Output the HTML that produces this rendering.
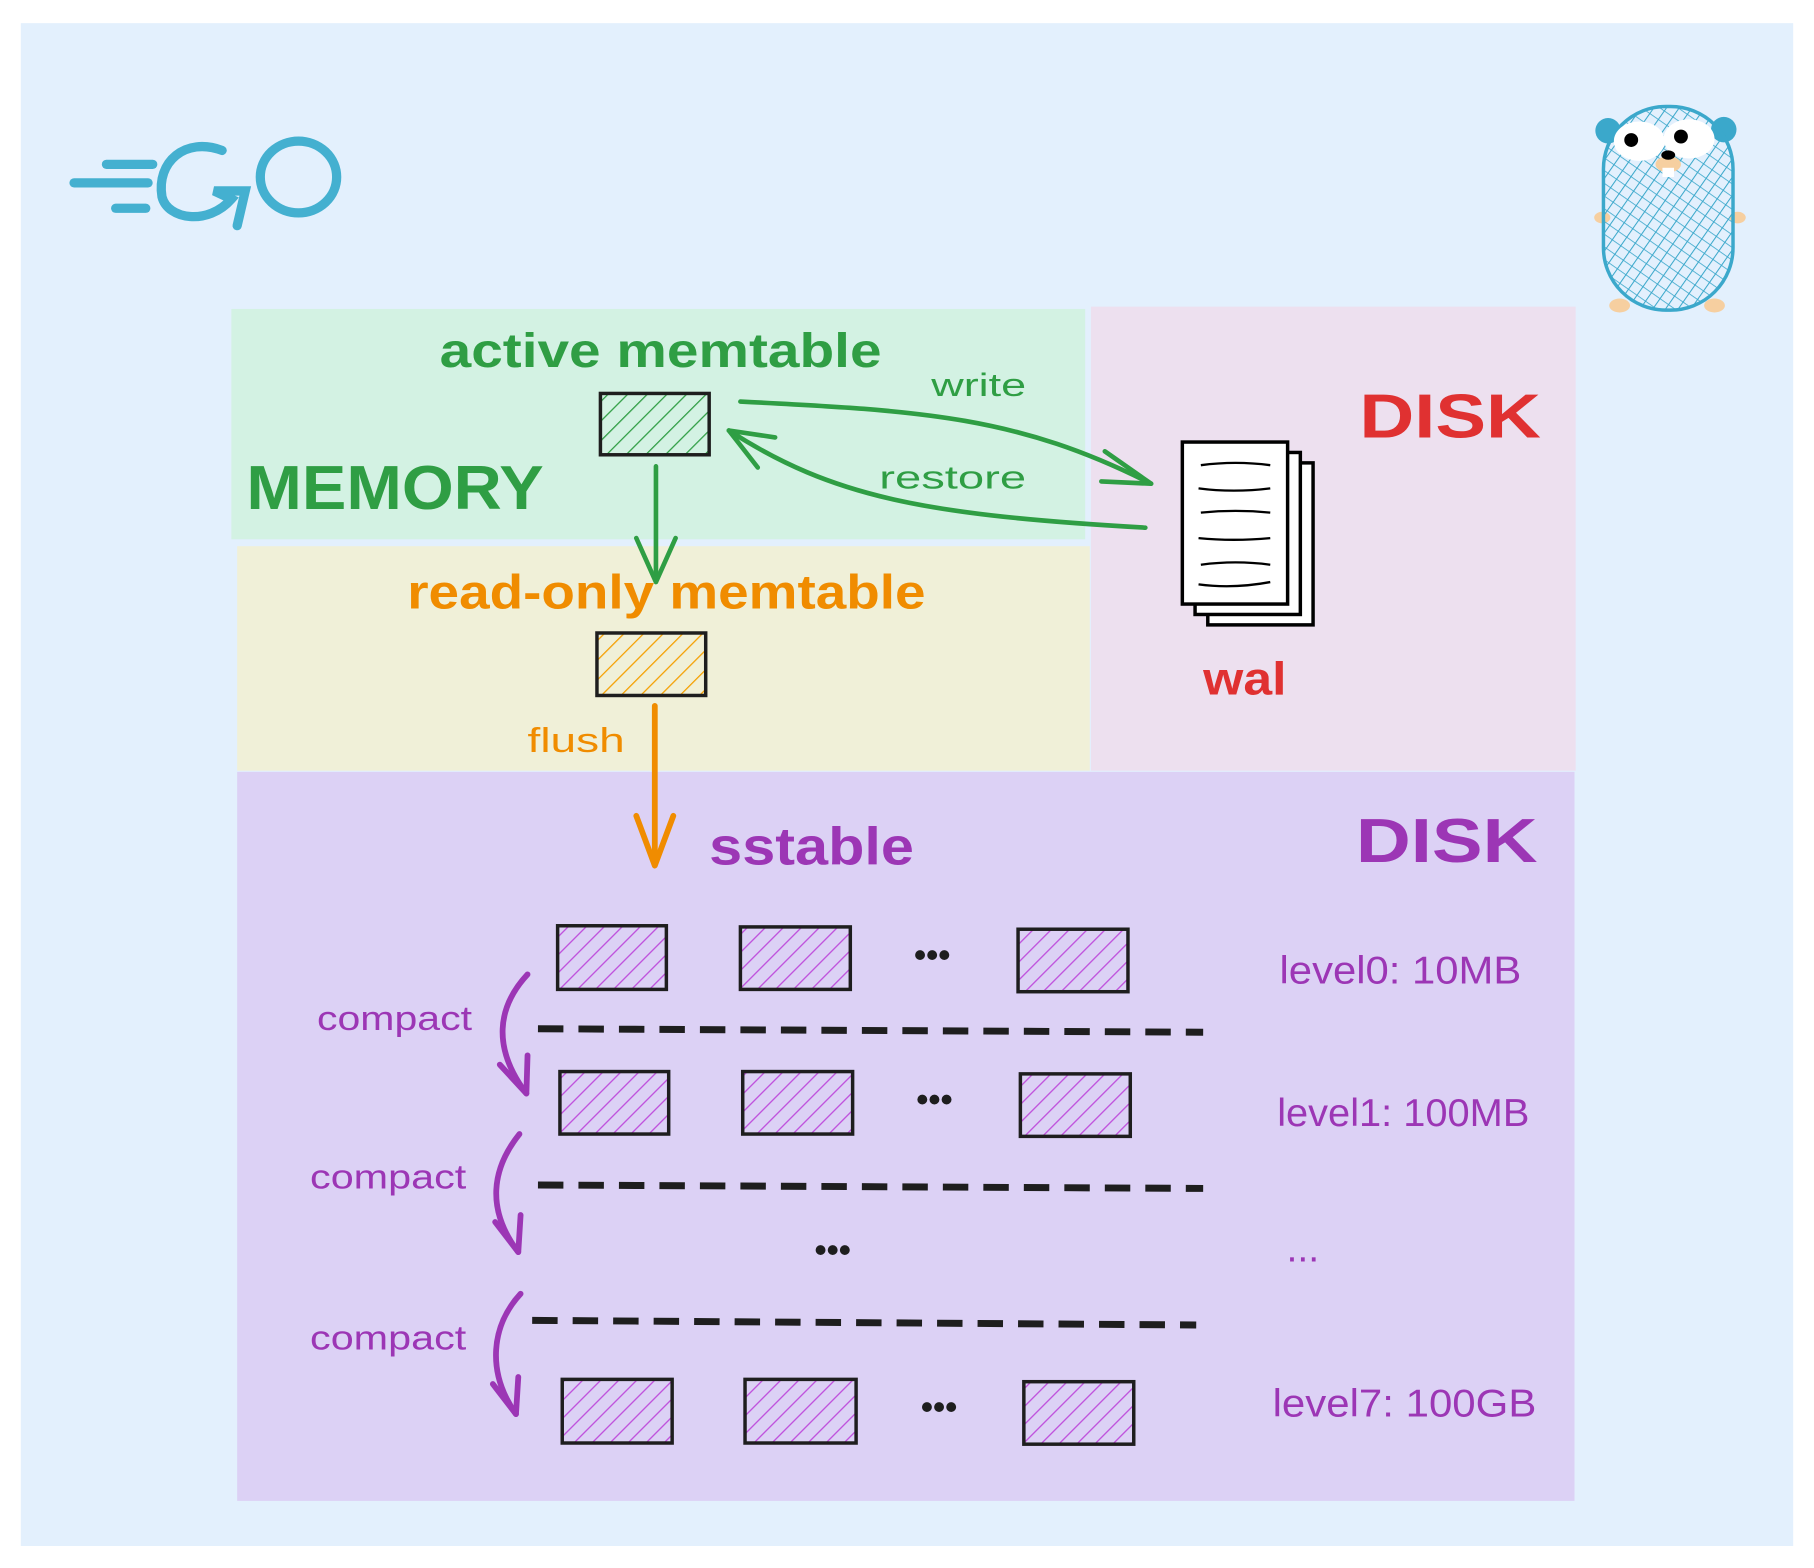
<!DOCTYPE html>
<html><head><meta charset="utf-8"><style>
html,body{margin:0;padding:0;background:#fff;}
svg{display:block;}
text{font-family:"Liberation Sans",sans-serif;}
</style></head><body>
<svg width="1814" height="1568" viewBox="0 0 1568 1355" preserveAspectRatio="none" xmlns="http://www.w3.org/2000/svg">
<defs>
<pattern id="hg" width="12" height="12" patternUnits="userSpaceOnUse" patternTransform="rotate(45)"><line x1="0" y1="0" x2="0" y2="12" stroke="#2f9e44" stroke-width="2.2"/></pattern>
<pattern id="ho" width="12" height="12" patternUnits="userSpaceOnUse" patternTransform="rotate(45)"><line x1="0" y1="0" x2="0" y2="12" stroke="#f59f00" stroke-width="2.2"/></pattern>
<pattern id="hp" width="11" height="11" patternUnits="userSpaceOnUse" patternTransform="rotate(45)"><line x1="0" y1="0" x2="0" y2="11" stroke="#be4bdb" stroke-width="2.2"/></pattern>
<pattern id="hb" width="9" height="9" patternUnits="userSpaceOnUse" patternTransform="rotate(35)"><line x1="0" y1="0" x2="0" y2="9" stroke="#3ba8cb" stroke-width="1.8"/><line x1="0" y1="0" x2="9" y2="0" stroke="#3ba8cb" stroke-width="1.4"/></pattern>
</defs>
<rect x="0" y="0" width="1568" height="1355" fill="#fff"/>
<rect x="18" y="20" width="1532" height="1316" fill="#e3f0fd"/>
<rect x="200" y="267" width="738" height="199" fill="#d3f2e3"/>
<rect x="205" y="472" width="737" height="194" fill="#f0f0d8"/>
<rect x="943" y="265" width="419" height="401" fill="#ede0ef"/>
<rect x="205" y="667" width="1156" height="630" fill="#dcd1f5"/>

<g stroke="#44b0d0" stroke-width="8" stroke-linecap="round" fill="none">
<line x1="92" y1="142" x2="132" y2="142"/><line x1="64" y1="158" x2="128" y2="158"/><line x1="100" y1="180" x2="126" y2="180"/>
<path d="M192 130 C160 118 135 140 140 170 C145 190 180 195 200 172 L185 165 L212 165 L205 195"/>
<ellipse cx="258" cy="153" rx="33" ry="31"/>
</g>

<circle cx="1390" cy="113" r="11" fill="#3ba8cb"/><circle cx="1490" cy="112" r="11" fill="#3ba8cb"/>
<ellipse cx="1385" cy="188" rx="7" ry="5" fill="#f6cfa0"/><ellipse cx="1502" cy="188" rx="7" ry="5" fill="#f6cfa0"/>
<ellipse cx="1400" cy="264" rx="9" ry="6" fill="#f6cfa0"/><ellipse cx="1482" cy="264" rx="9" ry="6" fill="#f6cfa0"/>
<rect x="1386" y="92" width="112" height="176" rx="54" fill="url(#hb)" stroke="#3ba8cb" stroke-width="3"/>
<ellipse cx="1417" cy="122" rx="22" ry="17" fill="#fff"/><ellipse cx="1460" cy="120" rx="22" ry="17" fill="#fff"/>
<circle cx="1410" cy="121" r="6" fill="#000"/><circle cx="1453" cy="118" r="6" fill="#000"/>
<ellipse cx="1442" cy="142" rx="11" ry="7" fill="#f6cfa0"/><ellipse cx="1442" cy="134" rx="6" ry="4" fill="#000"/>
<rect x="1437" y="145" width="10" height="8" fill="#fff"/>

<g lengthAdjust="spacingAndGlyphs">
<text x="380" y="317" font-size="42" fill="#2f9e44" font-weight="bold" textLength="382" lengthAdjust="spacingAndGlyphs">active memtable</text>
<text x="213" y="440" font-size="54" fill="#2f9e44" font-weight="bold" textLength="257" lengthAdjust="spacingAndGlyphs">MEMORY</text>
<text x="805" y="342" font-size="28" fill="#2f9e44" textLength="82" lengthAdjust="spacingAndGlyphs">write</text>
<text x="760" y="422" font-size="28" fill="#2f9e44" textLength="127" lengthAdjust="spacingAndGlyphs">restore</text>
<text x="352" y="526" font-size="42" fill="#f08c00" font-weight="bold" textLength="448" lengthAdjust="spacingAndGlyphs">read-only memtable</text>
<text x="456" y="650" font-size="30" fill="#f08c00" textLength="84" lengthAdjust="spacingAndGlyphs">flush</text>
<text x="1175" y="378" font-size="54" fill="#e03131" font-weight="bold" textLength="157" lengthAdjust="spacingAndGlyphs">DISK</text>
<text x="1040" y="600" font-size="40" fill="#e03131" font-weight="bold" textLength="72" lengthAdjust="spacingAndGlyphs">wal</text>
<text x="613" y="747" font-size="46" fill="#9c36b5" font-weight="bold" textLength="177" lengthAdjust="spacingAndGlyphs">sstable</text>
<text x="1172" y="745" font-size="54" fill="#9c36b5" font-weight="bold" textLength="157" lengthAdjust="spacingAndGlyphs">DISK</text>
<g font-size="34" fill="#9c36b5">
<text x="1106" y="850" textLength="209" lengthAdjust="spacingAndGlyphs">level0: 10MB</text>
<text x="1104" y="973" textLength="218" lengthAdjust="spacingAndGlyphs">level1: 100MB</text>
<text x="1112" y="1090">...</text>
<text x="1100" y="1224" textLength="228" lengthAdjust="spacingAndGlyphs">level7: 100GB</text>
</g>
<g font-size="30" fill="#9c36b5">
<text x="274" y="890" textLength="134" lengthAdjust="spacingAndGlyphs">compact</text>
<text x="268" y="1027" textLength="135" lengthAdjust="spacingAndGlyphs">compact</text>
<text x="268" y="1166" textLength="135" lengthAdjust="spacingAndGlyphs">compact</text>
</g>
</g>
<g font-size="30" fill="#1e1e1e" font-weight="bold">
<text x="790" y="835">•••</text>
<text x="792" y="960">•••</text>
<text x="704" y="1090">•••</text>
<text x="796" y="1226">•••</text>
</g>

<g stroke="#1e1e1e" stroke-width="3">
<rect x="519" y="340" width="94" height="53" fill="url(#hg)"/>
<rect x="516" y="547" width="94" height="54" fill="url(#ho)"/>
<rect x="482" y="800" width="94" height="55" fill="url(#hp)"/>
<rect x="640" y="801" width="95" height="54" fill="url(#hp)"/>
<rect x="880" y="803" width="95" height="54" fill="url(#hp)"/>
<rect x="484" y="926" width="94" height="54" fill="url(#hp)"/>
<rect x="642" y="926" width="95" height="54" fill="url(#hp)"/>
<rect x="882" y="928" width="95" height="54" fill="url(#hp)"/>
<rect x="486" y="1192" width="95" height="55" fill="url(#hp)"/>
<rect x="644" y="1192" width="96" height="55" fill="url(#hp)"/>
<rect x="885" y="1194" width="95" height="54" fill="url(#hp)"/>
</g>

<g stroke="#000" stroke-width="3" fill="#fff">
<rect x="1044" y="400" width="91" height="140"/>
<rect x="1033" y="391" width="91" height="140"/>
<rect x="1022" y="382" width="91" height="140"/>
</g>
<g stroke="#000" stroke-width="2" fill="none">
<path d="M1038 402 q30 -4 60 0 M1036 422 q30 4 62 0 M1038 443 q30 -3 60 0 M1036 465 q30 3 62 0 M1038 488 q30 -4 60 0 M1036 505 q30 4 62 -2"/>
</g>

<g stroke="#1e1e1e" stroke-width="6" stroke-dasharray="22,13">
<line x1="465" y1="889" x2="1040" y2="892"/>
<line x1="465" y1="1024" x2="1040" y2="1027"/>
<line x1="460" y1="1141" x2="1034" y2="1145"/>
</g>

<g fill="none" stroke-linecap="round" stroke-linejoin="round">
<g stroke="#2f9e44" stroke-width="4">
<path d="M640 347 C800 355 880 360 995 418"/><path d="M955 390 L995 418 L952 416"/>
<path d="M990 456 C800 445 720 430 630 372"/><path d="M655 404 L630 372 L670 378"/>
<line x1="567" y1="403" x2="567" y2="500"/><path d="M550 465 L567 503 L584 465"/>
</g>
<g stroke="#f08c00" stroke-width="5">
<line x1="566" y1="610" x2="566" y2="745"/><path d="M550 705 L566 748 L582 705"/>
</g>
<g stroke="#9c36b5" stroke-width="5">
<path d="M456 842 C430 870 425 905 455 945"/><path d="M432 920 L455 945 L456 912"/>
<path d="M449 980 C425 1010 420 1045 448 1082"/><path d="M428 1056 L448 1082 L450 1050"/>
<path d="M450 1118 C425 1145 420 1185 446 1222"/><path d="M426 1196 L446 1222 L448 1190"/>
</g>
</g>
</svg>
</body></html>
